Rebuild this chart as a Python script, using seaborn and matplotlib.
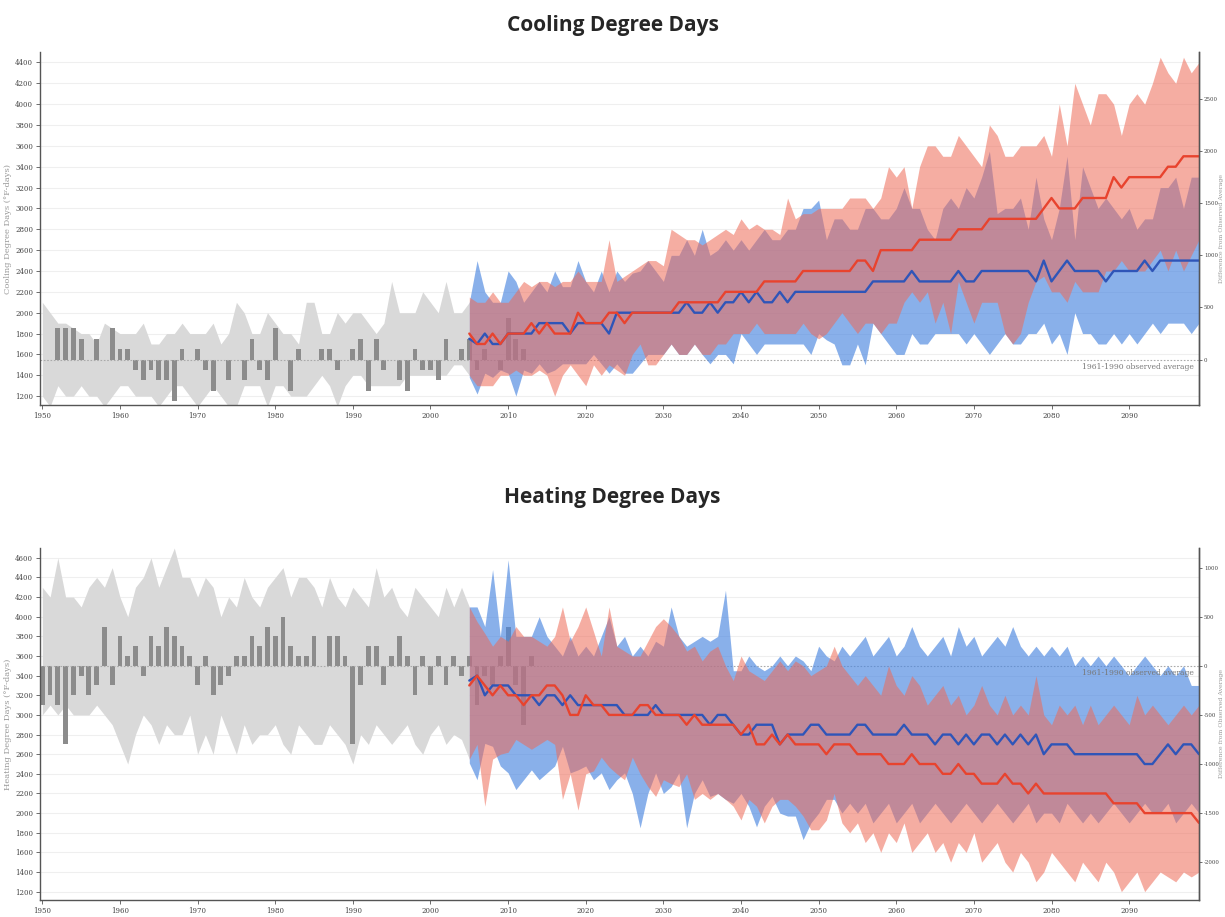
import numpy as np
import matplotlib
matplotlib.use("Agg")
from matplotlib import pyplot as plt
import seaborn as sns

# ---- data ----
gray_years = list(range(1950, 2006))
bar_years = list(range(1950, 2014))
proj_years = list(range(2005, 2100))

# Cooling degree days
cdd_base = 1550
cdd_gray_hi = [2100, 2000, 1900, 1900, 1850, 1800, 1800, 1700, 1900, 1850,
               1800, 1800, 1800, 1900, 1700, 1700, 1800, 1800, 1900, 1800,
               1800, 1800, 1900, 1700, 1800, 2100, 2000, 1800, 1800, 2000,
               1900, 1800, 1800, 1700, 2100, 2100, 1800, 1800, 2000, 1900,
               2000, 2000, 1900, 1800, 1900, 2300, 2000, 2000, 2000, 2200,
               2100, 2000, 2300, 2000, 2000, 2100]
cdd_gray_lo = [1200, 1100, 1300, 1200, 1200, 1300, 1200, 1200, 1100, 1200,
               1300, 1300, 1200, 1200, 1200, 1100, 1200, 1300, 1300, 1200,
               1100, 1200, 1300, 1200, 1100, 1100, 1300, 1300, 1300, 1100,
               1300, 1300, 1200, 1200, 1200, 1300, 1400, 1300, 1100, 1300,
               1400, 1400, 1300, 1300, 1300, 1300, 1300, 1400, 1400, 1400,
               1400, 1400, 1400, 1500, 1500, 1400]
cdd_obs = [1550, 1550, 1850, 1850, 1850, 1750, 1550, 1750, 1550, 1850,
           1650, 1650, 1450, 1350, 1450, 1350, 1350, 1150, 1650, 1550,
           1650, 1450, 1250, 1550, 1350, 1550, 1350, 1750, 1450, 1350,
           1850, 1550, 1250, 1650, 1550, 1550, 1650, 1650, 1450, 1550,
           1650, 1750, 1250, 1750, 1450, 1550, 1350, 1250, 1650, 1450,
           1450, 1350, 1750, 1550, 1650, 1750, 1450, 1650, 1550, 1450,
           1950, 1750, 1650, 1550]
cdd_hi_med = [1800, 1700, 1700, 1800, 1700, 1800, 1800, 1800, 1900, 1800,
              1900, 1800, 1800, 1800, 2000, 1900, 1900, 1900, 2000, 2000,
              1900, 2000, 2000, 2000, 2000, 2000, 2000, 2100, 2100, 2100,
              2100, 2100, 2100, 2200, 2200, 2200, 2200, 2200, 2300, 2300,
              2300, 2300, 2300, 2400, 2400, 2400, 2400, 2400, 2400, 2400,
              2500, 2500, 2400, 2600, 2600, 2600, 2600, 2600, 2700, 2700,
              2700, 2700, 2700, 2800, 2800, 2800, 2800, 2900, 2900, 2900,
              2900, 2900, 2900, 2900, 3000, 3100, 3000, 3000, 3000, 3100,
              3100, 3100, 3100, 3300, 3200, 3300, 3300, 3300, 3300, 3300,
              3400, 3400, 3500, 3500, 3500]
cdd_lo_med = [1750, 1700, 1800, 1700, 1700, 1800, 1800, 1800, 1800, 1900,
              1900, 1900, 1900, 1800, 1900, 1900, 1900, 1900, 1800, 2000,
              2000, 2000, 2000, 2000, 2000, 2000, 2000, 2000, 2100, 2000,
              2000, 2100, 2000, 2100, 2100, 2200, 2100, 2200, 2100, 2100,
              2200, 2100, 2200, 2200, 2200, 2200, 2200, 2200, 2200, 2200,
              2200, 2200, 2300, 2300, 2300, 2300, 2300, 2400, 2300, 2300,
              2300, 2300, 2300, 2400, 2300, 2300, 2400, 2400, 2400, 2400,
              2400, 2400, 2400, 2300, 2500, 2300, 2400, 2500, 2400, 2400,
              2400, 2400, 2300, 2400, 2400, 2400, 2400, 2500, 2400, 2500,
              2500, 2500, 2500, 2500, 2500]
cdd_hi_up = [2150, 2100, 2100, 2200, 2100, 2100, 2200, 2300, 2250, 2300,
             2300, 2250, 2300, 2300, 2400, 2300, 2300, 2300, 2700, 2300,
             2350, 2400, 2450, 2500, 2500, 2450, 2800, 2750, 2700, 2700,
             2650, 2700, 2750, 2800, 2750, 2900, 2800, 2850, 2800, 2800,
             2750, 3100, 2900, 2950, 2950, 3000, 3000, 3000, 3000, 3100,
             3100, 3100, 3000, 3100, 3400, 3300, 3400, 3000, 3400, 3600,
             3600, 3500, 3500, 3700, 3600, 3500, 3400, 3800, 3700, 3500,
             3500, 3600, 3600, 3600, 3700, 3500, 4000, 3600, 4200, 4000,
             3800, 4100, 4100, 4000, 3700, 4000, 4100, 4000, 4200, 4450,
             4300, 4200, 4450, 4300, 4400]
cdd_hi_lo = [1400, 1300, 1300, 1300, 1400, 1400, 1450, 1400, 1400, 1450,
             1400, 1200, 1400, 1500, 1400, 1300, 1500, 1400, 1500, 1450,
             1400, 1600, 1700, 1500, 1500, 1600, 1700, 1600, 1600, 1700,
             1600, 1600, 1700, 1700, 1800, 1800, 1800, 1900, 1800, 1800,
             1800, 1800, 1800, 1900, 1800, 1750, 1800, 1900, 2000, 1900,
             1800, 1900, 1900, 1800, 1900, 1900, 2100, 2200, 2100, 2200,
             1900, 2100, 1800, 2300, 2100, 1900, 2100, 2100, 2100, 1800,
             1700, 1800, 2100, 2300, 2350, 2200, 2200, 2100, 2300, 2200,
             2200, 2200, 2400, 2400, 2500, 2400, 2400, 2400, 2500, 2600,
             2400, 2600, 2400, 2550, 2700]
cdd_lo_up = [2100, 2500, 2200, 2100, 2100, 2400, 2300, 2100, 2200, 2300,
             2200, 2400, 2250, 2250, 2500, 2300, 2200, 2400, 2200, 2400,
             2300, 2380, 2400, 2500, 2400, 2300, 2550, 2550, 2700, 2550,
             2800, 2550, 2600, 2700, 2600, 2700, 2600, 2700, 2800, 2700,
             2700, 2800, 2800, 3000, 3000, 3080, 2700, 2900, 2900, 2800,
             2800, 3000, 3000, 2900, 2900, 3000, 3200, 3000, 3000, 2800,
             2700, 3000, 3100, 3000, 3200, 3100, 3300, 3550, 2950, 3000,
             3000, 3100, 2800, 3300, 2900, 2700, 3000, 3500, 2700, 3400,
             3200, 3000, 3100, 3000, 2900, 3000, 2800, 2900, 2900, 3200,
             3200, 3300, 3000, 3300, 3300]
cdd_lo_lo = [1380, 1220, 1420, 1380, 1450, 1420, 1200, 1450, 1420, 1510,
             1420, 1450, 1510, 1510, 1510, 1510, 1600, 1510, 1420, 1510,
             1420, 1420, 1510, 1600, 1600, 1600, 1700, 1600, 1600, 1700,
             1600, 1510, 1600, 1600, 1510, 1800, 1700, 1600, 1700, 1700,
             1700, 1700, 1700, 1700, 1600, 1800, 1740, 1700, 1500, 1500,
             1700, 1500, 1900, 1800, 1700, 1600, 1600, 1800, 1700, 1700,
             1800, 1800, 1800, 1800, 1700, 1800, 1700, 1600, 1700, 1800,
             1700, 1700, 1800, 1800, 1900, 1700, 1800, 1600, 2000, 1800,
             1800, 1700, 1700, 1800, 1700, 1800, 1700, 1800, 1900, 1800,
             1900, 1900, 1900, 1800, 1900]

# Heating degree days
hdd_base = 3500
hdd_gray_hi = [4300, 4200, 4600, 4200, 4200, 4100, 4300, 4400, 4300, 4500,
               4200, 4000, 4300, 4400, 4600, 4300, 4500, 4700, 4400, 4400,
               4200, 4400, 4300, 4000, 4200, 4100, 4400, 4200, 4100, 4300,
               4400, 4500, 4200, 4400, 4400, 4300, 4100, 4400, 4200, 4100,
               4300, 4200, 4100, 4500, 4200, 4300, 4100, 4000, 4300, 4200,
               4100, 4000, 4300, 4100, 4300, 4100]
hdd_gray_lo = [3000, 3100, 3000, 3100, 3000, 3000, 3000, 3100, 3000, 2900,
               2700, 2500, 2800, 3000, 2900, 2700, 2900, 2800, 2800, 3000,
               2600, 2800, 2600, 3000, 2800, 2600, 2900, 2700, 2800, 2800,
               2900, 2700, 2600, 2900, 2800, 2700, 2700, 2900, 2800, 2700,
               2500, 2800, 2700, 2900, 2800, 2700, 2800, 2900, 2700, 2600,
               2800, 2900, 2700, 2800, 2750, 2550]
hdd_obs = [3100, 3200, 3100, 2700, 3200, 3400, 3200, 3300, 3900, 3300,
           3800, 3600, 3700, 3400, 3800, 3700, 3900, 3800, 3700, 3600,
           3300, 3600, 3200, 3300, 3400, 3600, 3600, 3800, 3700, 3900,
           3800, 4000, 3700, 3600, 3600, 3800, 3500, 3800, 3800, 3600,
           2700, 3300, 3700, 3700, 3300, 3600, 3800, 3600, 3200, 3600,
           3300, 3600, 3300, 3600, 3400, 3600, 3100, 3400, 3300, 3600,
           3900, 3300, 2900, 3600]
hdd_hi_med = [3300, 3400, 3300, 3200, 3300, 3200, 3200, 3100, 3200, 3200,
              3300, 3300, 3200, 3000, 3000, 3200, 3100, 3100, 3000, 3000,
              3000, 3000, 3100, 3100, 3000, 3000, 3000, 3000, 2900, 3000,
              2900, 2900, 2900, 2900, 2900, 2800, 2900, 2700, 2700, 2800,
              2700, 2800, 2700, 2700, 2700, 2700, 2600, 2700, 2700, 2700,
              2600, 2600, 2600, 2600, 2500, 2500, 2500, 2600, 2500, 2500,
              2500, 2400, 2400, 2500, 2400, 2400, 2300, 2300, 2300, 2400,
              2300, 2300, 2200, 2300, 2200, 2200, 2200, 2200, 2200, 2200,
              2200, 2200, 2200, 2100, 2100, 2100, 2100, 2000, 2000, 2000,
              2000, 2000, 2000, 2000, 1900]
hdd_lo_med = [3350, 3400, 3200, 3300, 3300, 3300, 3200, 3200, 3200, 3100,
              3200, 3200, 3100, 3200, 3100, 3100, 3100, 3100, 3100, 3100,
              3000, 3000, 3000, 3000, 3100, 3000, 3000, 3000, 3000, 3000,
              3000, 2900, 3000, 3000, 2900, 2800, 2800, 2900, 2900, 2900,
              2700, 2800, 2800, 2800, 2900, 2900, 2800, 2800, 2800, 2800,
              2900, 2900, 2800, 2800, 2800, 2800, 2900, 2800, 2800, 2800,
              2700, 2800, 2800, 2700, 2800, 2700, 2800, 2800, 2700, 2800,
              2700, 2800, 2700, 2800, 2600, 2700, 2700, 2700, 2600, 2600,
              2600, 2600, 2600, 2600, 2600, 2600, 2600, 2500, 2500, 2600,
              2700, 2600, 2700, 2700, 2600]
hdd_hi_up = [4100, 3950, 3830, 3700, 3800, 3750, 3900, 3800, 3800, 3750,
             3700, 3800, 4100, 3750, 3900, 4100, 3850, 3600, 4100, 3700,
             3650, 3600, 3600, 3750, 3900, 3980, 3900, 3800, 3650, 3700,
             3550, 3650, 3700, 3500, 3350, 3600, 3450, 3400, 3350, 3450,
             3550, 3450, 3550, 3500, 3400, 3450, 3500, 3700, 3500, 3400,
             3300, 3400, 3300, 3200, 3500, 3300, 3200, 3400, 3300, 3100,
             3200, 3300, 3100, 3200, 3000, 3100, 3300, 3100, 3000, 3200,
             3000, 3100, 3000, 3400, 3000, 2900, 3100, 3000, 3100, 2900,
             3100, 2900, 3000, 3100, 3000, 2900, 3200, 3000, 3100, 3000,
             2900, 3000, 3100, 3000, 3100]
hdd_hi_lo = [2550, 2700, 2070, 2550, 2600, 2620, 2750, 2700, 2650, 2700,
             2750, 2700, 2140, 2400, 2030, 2400, 2430, 2570, 2470, 2400,
             2340, 2570, 2400, 2270, 2170, 2340, 2300, 2270, 2400, 2140,
             2200, 2140, 2200, 2140, 2070, 1930, 2140, 2070, 1900, 2070,
             2140, 2140, 2070, 1970, 1830, 1830, 1930, 2200, 1900, 1800,
             1900, 1700, 1800, 1600, 1800, 1700, 1900, 1600, 1700, 1800,
             1600, 1700, 1500, 1700, 1600, 1800, 1500, 1600, 1700, 1500,
             1400, 1600, 1500, 1300, 1400, 1600, 1500, 1400, 1300, 1500,
             1400, 1300, 1500, 1400, 1200, 1300, 1400, 1200, 1300, 1400,
             1350, 1300, 1400, 1350, 1400]
hdd_lo_up = [4100, 4100, 3900, 4480, 3800, 4580, 3800, 3800, 3800, 4000,
             3800, 3700, 3600, 3800, 3600, 3700, 3600, 3800, 4000, 3700,
             3800, 3600, 3700, 3600, 3750, 3700, 4100, 3800, 3700, 3750,
             3800, 3750, 3800, 4270, 3450, 3450, 3600, 3500, 3450, 3500,
             3600, 3500, 3600, 3550, 3450, 3700, 3600, 3550, 3700, 3600,
             3700, 3800, 3600, 3700, 3800, 3600, 3700, 3900, 3700, 3600,
             3700, 3800, 3600, 3900, 3700, 3800, 3600, 3700, 3800, 3700,
             3900, 3700, 3600, 3700, 3600, 3700, 3600, 3700, 3500, 3600,
             3500, 3600, 3500, 3600, 3500, 3400, 3500, 3600, 3500, 3400,
             3500, 3400, 3500, 3300, 3300]
hdd_lo_lo = [2510, 2340, 2710, 2680, 2480, 2410, 2240, 2340, 2440, 2340,
             2410, 2480, 2680, 2410, 2440, 2480, 2340, 2410, 2240, 2340,
             2410, 2200, 1850, 2200, 2410, 2200, 2270, 2410, 1850, 2200,
             2340, 2170, 2200, 2140, 2100, 2200, 2070, 1860, 2070, 2170,
             2000, 1970, 1970, 1730, 1900, 2000, 2140, 2140, 2000, 2100,
             2000, 2100, 1900, 2000, 2100, 1900, 2000, 2100, 1900, 2000,
             2100, 2000, 1900, 2000, 2100, 2000, 1900, 2000, 2100, 2000,
             1900, 2000, 2100, 1900, 2000, 2000, 1900, 2100, 2000, 1900,
             2000, 1900, 2000, 2100, 2000, 1900, 2000, 2100, 2000, 2000,
             2100, 1900, 2000, 2100, 2000]

x_ticks = list(range(1950, 2100, 10))
cdd_right_ticks = [0, 500, 1000, 1500, 2000, 2500]
hdd_right_ticks = [1000, 500, 0, -500, -1000, -1500, -2000]

# ---- style ----
sns.set_style("white")
plt.rcParams['font.family'] = ['DejaVu Sans']

GRAY_BAND = '#d9d9d9'
BAR = '#8c8c8c'
RED_BAND = '#ee6a57'
BLUE_BAND = '#4a86e0'
RED_LINE = '#e8432e'
BLUE_LINE = '#2f55b8'
SPINE = '#555555'


def draw_panel(ax, base, gray_hi, gray_lo, obs, hi_med, lo_med, hi_up, hi_lo,
               lo_up, lo_lo, ylim, left_ticks, right_ticks, ylabel):
    ax.set_xlim(1949.7, 2099.0)
    ax.set_ylim(*ylim)
    ax.set_yticks(left_ticks)
    ax.yaxis.grid(True, color='#efefef', linewidth=0.8)
    ax.set_axisbelow(True)

    ax.fill_between(gray_years, gray_lo, gray_hi, color=GRAY_BAND, lw=0, zorder=1)
    heights = np.array(obs) - base
    ax.bar(bar_years, heights, bottom=base, width=0.62, color=BAR, lw=0, zorder=2)

    ax.fill_between(proj_years, lo_lo, lo_up, color=BLUE_BAND, alpha=0.65, lw=0, zorder=3)
    ax.fill_between(proj_years, hi_lo, hi_up, color=RED_BAND, alpha=0.55, lw=0, zorder=4)

    sns.lineplot(x=proj_years, y=lo_med, ax=ax, color=BLUE_LINE, linewidth=1.7, zorder=5)
    sns.lineplot(x=proj_years, y=hi_med, ax=ax, color=RED_LINE, linewidth=1.7, zorder=6)

    ax.axhline(base, color='#aaaaaa', linestyle=(0, (1.5, 1.5)), linewidth=0.8, zorder=2.5)
    off = (ylim[1] - ylim[0]) * 0.01
    ax.text(2098.3, base - off, '1961-1990 observed average', ha='right', va='top',
            fontsize=5.5, family='DejaVu Serif', color='#777777', zorder=7)

    ax.set_xticks(x_ticks)
    ax.set_xticklabels([str(t) for t in x_ticks])
    ax.tick_params(axis='both', which='both', length=3, width=0.6, color=SPINE,
                   labelsize=5, labelcolor='#444444', pad=2, labelfontfamily='DejaVu Serif',
                   left=True, bottom=True)
    ax.set_ylabel(ylabel, fontsize=6, color='#999999', family='DejaVu Serif')
    ax.yaxis.set_label_coords(-0.024, 0.5)
    ax.set_xlabel('')
    for side in ['left', 'bottom', 'right']:
        ax.spines[side].set_color(SPINE)
        ax.spines[side].set_linewidth(1.0)
    ax.spines['top'].set_visible(False)

    ax2 = ax.twinx()
    ax2.set_ylim(ylim[0] - base, ylim[1] - base)
    ax2.set_yticks(right_ticks)
    ax2.set_yticklabels([str(t) for t in right_ticks])
    ax2.tick_params(axis='y', length=2.5, width=0.6, color=SPINE, labelsize=4,
                    labelcolor='#444444', pad=1, labelfontfamily='DejaVu Serif')
    ax2.set_ylabel('Difference from Observed Average', fontsize=4.5, color='#999999',
                   family='DejaVu Serif', va='center')
    ax2.yaxis.set_label_coords(1.0196, 0.5)
    for side in ['left', 'bottom', 'top']:
        ax2.spines[side].set_visible(False)
    ax2.spines['right'].set_color(SPINE)
    ax2.spines['right'].set_linewidth(1.0)


fig = plt.figure(figsize=(12.25, 9.17), dpi=100)
ax_top = fig.add_axes([40 / 1225, 1 - 405 / 917, 1159 / 1225, 353 / 917])
ax_bot = fig.add_axes([40 / 1225, 1 - 900 / 917, 1159 / 1225, 352 / 917])

draw_panel(ax_top, cdd_base, cdd_gray_hi, cdd_gray_lo, cdd_obs, cdd_hi_med, cdd_lo_med,
           cdd_hi_up, cdd_hi_lo, cdd_lo_up, cdd_lo_lo, (1115, 4500),
           list(range(1200, 4401, 200)), cdd_right_ticks,
           'Cooling Degree Days (\u00b0F-days)')
draw_panel(ax_bot, hdd_base, hdd_gray_hi, hdd_gray_lo, hdd_obs, hdd_hi_med, hdd_lo_med,
           hdd_hi_up, hdd_hi_lo, hdd_lo_up, hdd_lo_lo, (1115, 4700),
           list(range(1200, 4601, 200)), hdd_right_ticks,
           'Heating Degree Days (\u00b0F-days)')

fig.text(0.5, 1 - 25 / 917, 'Cooling Degree Days', ha='center', va='center',
         fontsize=15, fontweight='bold', family='Open Sans')
fig.text(0.5, 1 - 497 / 917, 'Heating Degree Days', ha='center', va='center',
         fontsize=15, fontweight='bold', family='Open Sans')

fig.savefig('out.png', dpi=100)
plt.close(fig)
